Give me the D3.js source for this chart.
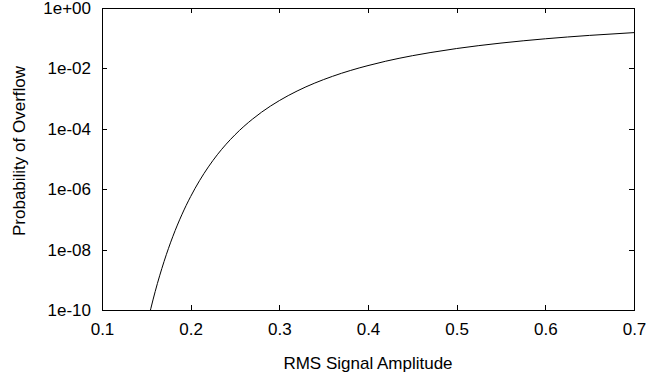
<!DOCTYPE html>
<html>
<head>
<meta charset="utf-8">
<script src="https://cdn.jsdelivr.net/npm/d3@7"></script>
<style>
  body { margin: 0; background: #fff; }
  text { font-family: "Liberation Sans", Arial, sans-serif; font-size: 17px; fill: #000; }
</style>
</head>
<body>
<div id="chart"></div>
<script>
// data
const rmsAmp = [0.15, 0.155, 0.16, 0.17, 0.18, 0.19, 0.20, 0.21, 0.22, 0.23, 0.24, 0.25, 0.26, 0.27, 0.28, 0.29, 0.30,
                0.32, 0.33, 0.34, 0.36, 0.38, 0.40, 0.42, 0.45, 0.47, 0.50, 0.55, 0.60, 0.65, 0.70];
const pOverflow = [2.6e-11, 1.1e-10, 4.1e-10, 4.05e-9, 2.77e-8, 1.42e-7, 5.73e-7, 1.92e-6, 5.48e-6, 1.38e-5, 3.09e-5, 6.33e-5, 1.2e-4, 2.12e-4, 3.56e-4, 5.65e-4, 8.58e-4,
                   1.78e-3, 2.45e-3, 3.27e-3, 5.47e-3, 8.5e-3, 1.24e-2, 1.73e-2, 2.63e-2, 3.33e-2, 4.55e-2, 6.9e-2, 9.56e-2, 0.124, 0.153];
const xTicks = [0.1, 0.2, 0.3, 0.4, 0.5, 0.6, 0.7];
const yTicks = [1e-10, 1e-8, 1e-6, 1e-4, 1e-2, 1];
const xLabel = "RMS Signal Amplitude";
const yLabel = "Probability of Overflow";

const data = rmsAmp.map((a, i) => ({ a: a, p: pOverflow[i] }));

// dimensions
const W = 663, H = 379;
const margin = { top: 8, right: 29, bottom: 69, left: 102 },
    width = W - margin.left - margin.right,
    height = H - margin.top - margin.bottom;

const svg = d3.select("#chart")
  .append("svg")
    .attr("width", W)
    .attr("height", H)
  .append("g")
    .attr("transform", `translate(${margin.left},${margin.top})`);

const x = d3.scaleLinear().domain([0.1, 0.7]).range([0, width]);
const y = d3.scaleLog().domain([1e-10, 1]).range([height, 0]);

const fmtExp = d => {
  const e = Math.round(Math.log10(d));
  return "1e" + (e < 0 ? "-" : "+") + String(Math.abs(e)).padStart(2, "0");
};

// axes, ticks pointing inward
const tl = 5;
svg.append("g")
  .attr("transform", `translate(0,${height})`)
  .call(d3.axisBottom(x).tickValues(xTicks).tickFormat(d3.format(".1f"))
    .tickSizeInner(-tl).tickSizeOuter(0).tickPadding(13));
svg.append("g")
  .call(d3.axisLeft(y).tickValues(yTicks).tickFormat(fmtExp)
    .tickSizeInner(-tl).tickSizeOuter(0).tickPadding(11));
// mirrored ticks
svg.append("g")
  .call(d3.axisTop(x).tickValues(xTicks).tickFormat("").tickSizeInner(-tl).tickSizeOuter(0));
svg.append("g")
  .attr("transform", `translate(${width},0)`)
  .call(d3.axisRight(y).tickValues(yTicks).tickFormat("").tickSizeInner(-tl).tickSizeOuter(0));

svg.selectAll(".domain").remove();
svg.selectAll(".tick line").attr("stroke", "#000").attr("shape-rendering", "crispEdges");
svg.selectAll(".tick text").style("font-size", "17px").attr("fill", "#000");

// frame
svg.append("rect")
  .attr("x", 0.5).attr("y", 0.5)
  .attr("width", width).attr("height", height)
  .attr("fill", "none").attr("stroke", "#000").attr("stroke-width", 1)
  .attr("shape-rendering", "crispEdges");

// clip
svg.append("clipPath").attr("id", "clip")
  .append("rect").attr("width", width).attr("height", height);

svg.append("path")
  .datum(data)
  .attr("clip-path", "url(#clip)")
  .attr("fill", "none")
  .attr("stroke", "#000")
  .attr("stroke-width", 1)
  .attr("d", d3.line()
    .x(d => x(d.a))
    .y(d => y(d.p))
    .curve(d3.curveMonotoneX));

// labels
svg.append("text")
  .attr("x", width / 2)
  .attr("y", H - margin.top - 10)
  .attr("text-anchor", "middle")
  .text(xLabel);

svg.append("text")
  .attr("transform", `translate(${25 - margin.left},${151 - margin.top}) rotate(-90)`)
  .attr("text-anchor", "middle")
  .text(yLabel);
</script>
</body>
</html>
